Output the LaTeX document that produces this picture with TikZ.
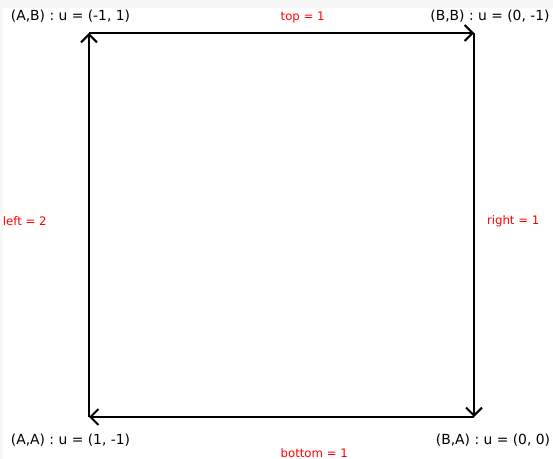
\documentclass[tikz,border=0pt]{standalone}
\usepackage{fontspec}
\setmainfont{DejaVu Sans}
\usetikzlibrary{arrows.meta}

\begin{document}
\begin{tikzpicture}[x=0.75pt,y=-0.75pt,
  state/.style={font=\fontsize{10.4}{12}\selectfont, inner sep=0pt},
  cost/.style={font=\fontsize{8.8}{10}\selectfont, text=red, inner sep=0pt},
  edge/.style={-{Straight Barb[length=6pt,width=12pt,line width=1.5pt]}, line width=1.5pt}]
\fill[black!3] (0,0) rectangle (553,459);
\fill[white] (3,8) rectangle (553,459);
\useasboundingbox (0,0) rectangle (553,459);
\coordinate (AB) at (89,33);
\coordinate (BB) at (474,33);
\coordinate (BA) at (474,417);
\coordinate (AA) at (89,417);
\node[state] (lAB) at (70.5,16) {(A,B) : u = (-1, 1)};
\node[state] (lBB) at (490,16) {(B,B) : u = (0, -1)};
\node[state] (lAA) at (70.5,440) {(A,A) : u = (1, -1)};
\node[state] (lBA) at (493,440) {(B,A) : u = (0, 0)};
\draw[edge] (AB) -- node[cost, pos=0.555, yshift=12pt]{top = 1} (BB);
\draw[edge] (BB) -- node[cost, right=9pt, yshift=3pt]{right = 1} (BA);
\draw[edge] (BA) -- node[cost, pos=0.415, yshift=-27pt]{bottom = 1} (AA);
\draw[edge] (AA) -- node[cost, left=31pt, yshift=3pt]{left = 2} (AB);
\end{tikzpicture}
\end{document}
